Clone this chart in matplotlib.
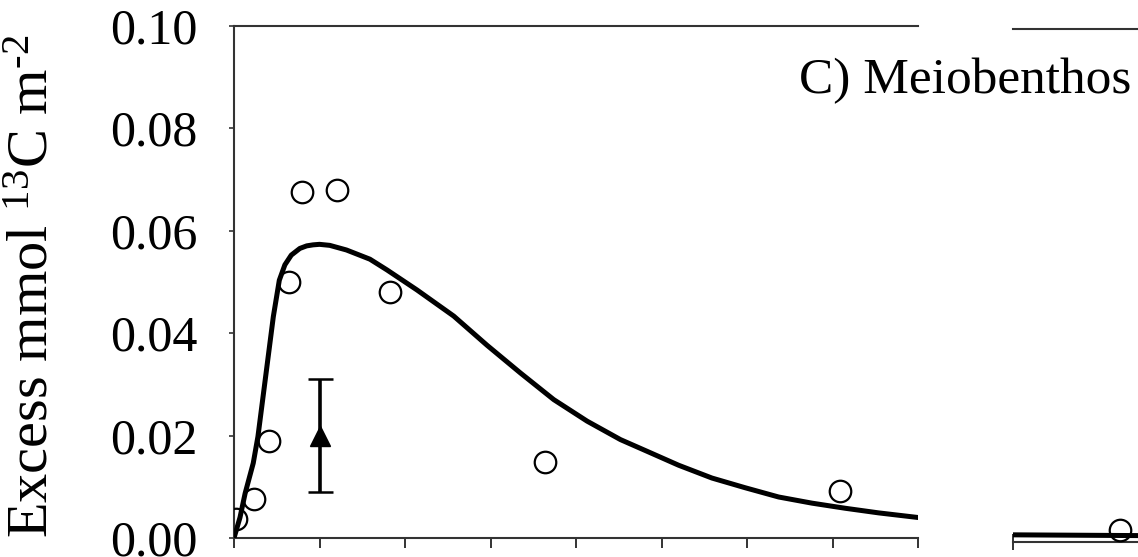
import matplotlib
matplotlib.use("Agg")
import matplotlib.pyplot as plt

plt.rcParams["font.family"] = ["Liberation Serif", "DejaVu Serif"]
plt.rcParams["mathtext.fontset"] = "custom"
plt.rcParams["mathtext.rm"] = "Liberation Serif"
plt.rcParams["mathtext.it"] = "Liberation Serif:italic"

# Observed meiobenthos label (open circles), time in days
obs_days = [0.02, 0.23, 0.41, 0.64, 0.79, 1.21, 1.82, 3.64, 7.09]
obs_excess = [0.0037, 0.0076, 0.0189, 0.0499, 0.0675, 0.0680, 0.0480, 0.0148, 0.0091]

# Mean of replicate cores with standard deviation (filled triangle)
mean_day = [1.0]
mean_excess = [0.0200]
mean_sd = [0.0110]

# Model fit through the first period
fit_days = [0.0, 0.07, 0.13, 0.225, 0.28, 0.34, 0.40, 0.46, 0.53, 0.595, 0.67,
            0.77, 0.85, 0.925, 1.0, 1.12, 1.315, 1.59, 1.79, 2.14, 2.57, 2.96,
            3.35, 3.74, 4.13, 4.52, 4.82, 5.2, 5.59, 5.98, 6.37, 6.76, 7.15,
            7.54, 8.0]
fit_excess = [0.0, 0.0040, 0.0087, 0.0146, 0.0198, 0.0276, 0.0354, 0.0432,
              0.0503, 0.0533, 0.0552, 0.0565, 0.0570, 0.0572, 0.0573, 0.0571,
              0.0562, 0.0544, 0.0523, 0.0484, 0.0433, 0.0376, 0.0322, 0.0270,
              0.0228, 0.0192, 0.0170, 0.0142, 0.0117, 0.0098, 0.0080, 0.0068,
              0.0058, 0.0049, 0.0040]

# Later period after the axis break
late_obs_days = [13.25]
late_obs_excess = [0.0023]
late_fit_days = [12.0, 13.0, 14.0]
late_fit_excess = [0.0013, 0.0012, 0.0011]

y_ticks = [0.00, 0.02, 0.04, 0.06, 0.08, 0.10]
y_tick_labels = ["0.00", "0.02", "0.04", "0.06", "0.08", "0.10"]
x_ticks = [0, 1, 2, 3, 4, 5, 6, 7, 8]

W, H = 1138, 557
fig = plt.figure(figsize=(W / 100, H / 100), dpi=100)
fig.patch.set_facecolor("white")

ax = fig.add_axes([234 / W, (H - 538) / H, 684 / W, 512.5 / H])
ax2 = fig.add_axes([1013 / W, (H - 541.5) / H, 683 / W, 512.5 / H])

spine_col = "#333333"
circ_kw = dict(marker="o", linestyle="none", markersize=15.5, markerfacecolor="none",
               markeredgecolor="black", markeredgewidth=1.6, zorder=4)

# Left panel
ax.plot(fit_days, fit_excess, color="black", linewidth=3.6, solid_capstyle="round",
        solid_joinstyle="round", zorder=3)
ax.plot(obs_days, obs_excess, **circ_kw)
ax.errorbar(mean_day, mean_excess, yerr=mean_sd, fmt="^", color="black",
            markersize=14, elinewidth=2.6, capsize=9, capthick=1.8, zorder=5)
ax.set_xlim(0, 8)
ax.set_ylim(0, 0.10)
ax.set_yticks(y_ticks)
ax.set_yticklabels(y_tick_labels)
ax.set_xticks(x_ticks)
ax.tick_params(axis="x", direction="out", length=7, width=1.4, labelbottom=False,
               color=spine_col)
ax.tick_params(axis="y", direction="out", length=3.6, width=1.2, pad=23,
               labelsize=36, color=spine_col)
for side in ("left", "bottom", "top"):
    ax.spines[side].set_linewidth(1.5)
    ax.spines[side].set_color(spine_col)
ax.spines["right"].set_visible(False)

# Right panel (after the break)
ax2.plot(late_fit_days, late_fit_excess, color="black", linewidth=3.6, zorder=3)
ax2.plot(late_obs_days, late_obs_excess, **circ_kw)
ax2.set_xlim(12, 20)
ax2.set_ylim(0, 0.10)
ax2.set_xticks([12, 16, 20])
ax2.set_yticks([])
ax2.tick_params(axis="x", direction="inout", length=12, width=1.4, labelbottom=False,
                color=spine_col)
for side in ("bottom", "top"):
    ax2.spines[side].set_linewidth(1.5)
    ax2.spines[side].set_color(spine_col)
ax2.spines["left"].set_visible(False)
ax2.spines["right"].set_visible(False)
ax2.patch.set_alpha(0)

fig.text(34 / W, (H - 286.5) / H, r"Excess mmol $^{13}$C m$^{\text{-2}}$",
         rotation=90, ha="center", va="center", fontsize=42)
fig.text(1131 / W, (H - 93) / H, "C) Meiobenthos", ha="right", va="baseline",
         fontsize=37)

fig.savefig("out.png", dpi=100, facecolor="white")
